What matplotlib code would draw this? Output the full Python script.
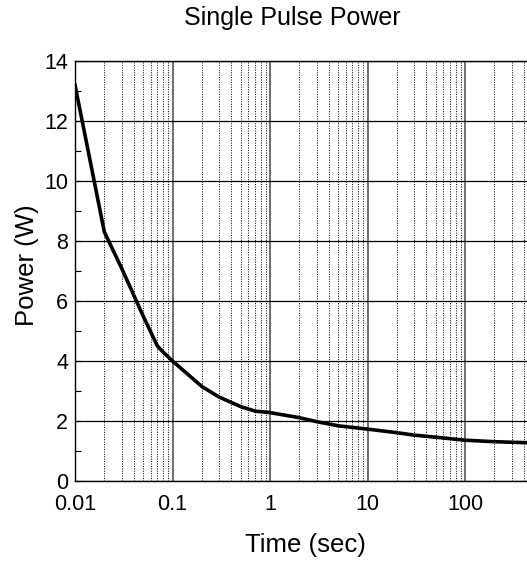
import matplotlib
matplotlib.use("Agg")
import matplotlib.pyplot as plt
from matplotlib.ticker import LogLocator, NullFormatter, FixedLocator, FixedFormatter

plt.rcParams['font.family'] = ['Liberation Sans', 'DejaVu Sans']

# pulse duration (s) and allowed power (W)
t_sec = [0.01, 0.02, 0.03, 0.04, 0.05, 0.07, 0.08, 0.1, 0.2, 0.3, 0.5, 0.7,
         1, 2, 3, 5, 10, 20, 30, 50, 100, 200, 500, 1000]
power_w = [13.2, 8.3, 7.1, 6.2, 5.5, 4.5, 4.3, 4.0, 3.15, 2.8, 2.48, 2.33,
           2.28, 2.11, 1.98, 1.84, 1.73, 1.61, 1.53, 1.46, 1.36, 1.31, 1.27, 1.25]

xticks = [0.01, 0.1, 1, 10, 100]
xticklabels = ["0.01", "0.1", "1", "10", "100"]
yticks = [0, 2, 4, 6, 8, 10, 12, 14]

W, H = 527, 564
fig = plt.figure(figsize=(W / 100, H / 100), dpi=100)
ax = fig.add_axes([75 / W, 83 / H, 487.5 / W, 420 / H])

ax.set_xscale("log")
ax.set_xlim(0.01, 1000)
ax.set_ylim(0, 14)

ax.xaxis.set_major_locator(FixedLocator(xticks))
ax.xaxis.set_major_formatter(FixedFormatter(xticklabels))
ax.xaxis.set_minor_locator(LogLocator(base=10, subs=range(2, 10), numticks=20))
ax.xaxis.set_minor_formatter(NullFormatter())
ax.set_yticks(yticks)
ax.set_yticks([1, 3, 5, 7, 9, 11, 13], minor=True)

ax.grid(which="major", axis="y", color="black", linewidth=0.9, linestyle="-")
ax.grid(which="major", axis="x", color="#555555", linewidth=1.2, linestyle="-")
ax.grid(which="minor", axis="x", color="black", linewidth=0.7, linestyle=(0, (1, 1.5)))
ax.set_axisbelow(True)

ax.plot(t_sec, power_w, color="black", linewidth=2.6, solid_joinstyle="round")

ax.tick_params(which="both", direction="in", labelsize=15.5, length=4, width=0.8,
               top=False, right=False)
ax.tick_params(axis="y", pad=5)
ax.tick_params(axis="x", which="both", length=0, pad=9)
for s in ax.spines.values():
    s.set_linewidth(1.0)

fig.text(292 / W, 1 - 18 / H, "Single Pulse Power", ha="center", va="center", fontsize=18)
fig.text(305 / W, 1 - 545 / H, "Time (sec)", ha="center", va="center", fontsize=18.5)
fig.text(27 / W, 1 - 265 / H, "Power (W)", ha="center", va="center", fontsize=18.5,
         rotation=90)

fig.savefig("out.png", dpi=100)
